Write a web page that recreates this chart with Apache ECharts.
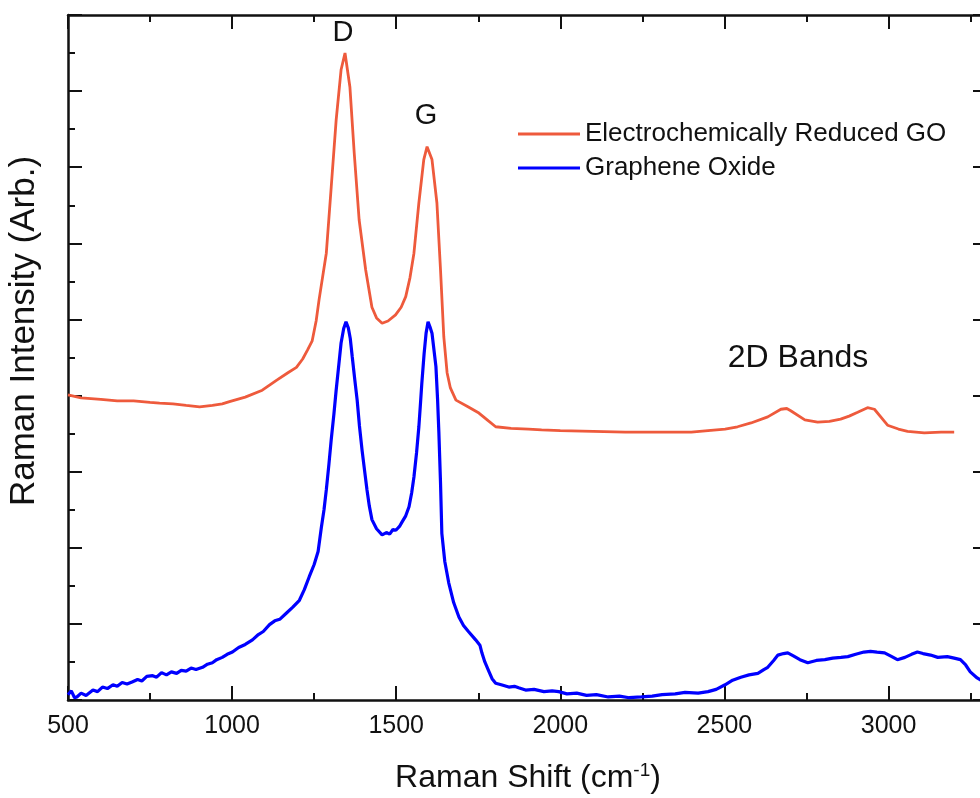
<!DOCTYPE html>
<html>
<head>
<meta charset="utf-8">
<script src="https://cdn.jsdelivr.net/npm/echarts@6/dist/echarts.min.js"></script>
<style>html,body{margin:0;padding:0;background:#fff;overflow:hidden;width:980px;height:798px}#c{width:990px;height:798px}</style>
</head>
<body>
<div id="c"></div>
<script>
const xTicks = [500, 1000, 1500, 2000, 2500, 3000];
const seriesNames = ['Electrochemically Reduced GO', 'Graphene Oxide'];
const ergo = [[500,4.01],[540,3.97],[600,3.95],[650,3.93],[700,3.93],[750,3.91],[779,3.90],[820,3.89],[860,3.87],[901,3.85],[940,3.87],[970,3.89],[992,3.92],[1040,3.98],[1092,4.07],[1135,4.20],[1170,4.30],[1196,4.37],[1215,4.48],[1230,4.60],[1244,4.72],[1256,4.98],[1265,5.26],[1287,5.87],[1302,6.74],[1317,7.62],[1332,8.28],[1344,8.50],[1359,8.05],[1372,7.19],[1387,6.31],[1407,5.65],[1426,5.16],[1440,5.02],[1457,4.95],[1475,4.98],[1498,5.06],[1515,5.16],[1529,5.30],[1542,5.55],[1554,5.87],[1569,6.53],[1584,7.10],[1594,7.27],[1609,7.10],[1624,6.53],[1635,5.65],[1645,4.77],[1655,4.30],[1665,4.10],[1682,3.94],[1720,3.85],[1752,3.77],[1780,3.67],[1803,3.59],[1850,3.57],[1903,3.56],[1943,3.55],[2000,3.54],[2100,3.53],[2198,3.52],[2300,3.52],[2399,3.52],[2450,3.54],[2502,3.56],[2540,3.59],[2581,3.64],[2632,3.72],[2672,3.82],[2690,3.83],[2702,3.80],[2745,3.68],[2784,3.65],[2820,3.66],[2854,3.69],[2880,3.73],[2906,3.78],[2936,3.84],[2957,3.82],[2980,3.70],[2997,3.61],[3030,3.56],[3058,3.53],[3109,3.51],[3160,3.52],[3200,3.52]];
const go = [[500,0.07],[510,0.12],[520,0.03],[527,0.04],[540,0.09],[555,0.06],[576,0.13],[590,0.11],[605,0.17],[620,0.15],[637,0.20],[650,0.18],[665,0.23],[680,0.21],[697,0.24],[712,0.27],[725,0.25],[740,0.31],[758,0.32],[770,0.30],[785,0.36],[800,0.33],[815,0.37],[831,0.35],[845,0.39],[860,0.38],[875,0.42],[890,0.40],[910,0.43],[925,0.47],[940,0.49],[953,0.53],[970,0.56],[985,0.60],[1001,0.63],[1020,0.69],[1040,0.73],[1062,0.79],[1080,0.86],[1095,0.90],[1114,0.99],[1130,1.04],[1145,1.06],[1165,1.14],[1185,1.22],[1205,1.31],[1220,1.45],[1235,1.62],[1250,1.78],[1262,1.95],[1272,2.27],[1280,2.50],[1287,2.76],[1295,3.10],[1302,3.42],[1310,3.75],[1317,4.07],[1325,4.40],[1332,4.69],[1340,4.88],[1347,4.97],[1354,4.89],[1360,4.75],[1366,4.51],[1374,4.20],[1381,3.94],[1388,3.60],[1396,3.28],[1404,3.00],[1411,2.76],[1418,2.55],[1426,2.37],[1440,2.25],[1457,2.17],[1470,2.20],[1480,2.18],[1490,2.24],[1499,2.23],[1510,2.28],[1518,2.34],[1529,2.42],[1539,2.54],[1547,2.72],[1554,2.93],[1562,3.25],[1569,3.59],[1574,3.90],[1578,4.16],[1585,4.55],[1591,4.82],[1597,4.97],[1603,4.90],[1609,4.82],[1615,4.60],[1621,4.38],[1626,3.95],[1630,3.51],[1635,2.85],[1639,2.19],[1648,1.82],[1660,1.54],[1675,1.28],[1691,1.09],[1705,0.98],[1720,0.90],[1742,0.79],[1755,0.72],[1761,0.62],[1770,0.50],[1782,0.38],[1792,0.28],[1803,0.22],[1820,0.20],[1843,0.17],[1860,0.18],[1873,0.16],[1894,0.13],[1920,0.14],[1950,0.11],[1975,0.12],[1995,0.11],[2020,0.08],[2050,0.09],[2080,0.06],[2110,0.07],[2146,0.04],[2180,0.05],[2210,0.03],[2247,0.04],[2280,0.05],[2310,0.07],[2350,0.08],[2380,0.10],[2420,0.09],[2450,0.11],[2475,0.14],[2502,0.20],[2525,0.26],[2550,0.30],[2575,0.33],[2602,0.35],[2620,0.40],[2632,0.43],[2650,0.52],[2663,0.59],[2680,0.61],[2693,0.62],[2710,0.58],[2730,0.53],[2754,0.49],[2780,0.52],[2806,0.53],[2830,0.55],[2855,0.56],[2876,0.57],[2900,0.60],[2925,0.63],[2945,0.64],[2965,0.63],[2988,0.62],[3010,0.57],[3027,0.53],[3050,0.56],[3070,0.60],[3088,0.63],[3105,0.61],[3128,0.59],[3150,0.56],[3179,0.57],[3200,0.55],[3219,0.53],[3235,0.46],[3249,0.37],[3270,0.29],[3285,0.25],[3300,0.22]];
const annotations = ['D', 'G', '2D Bands'];

const FONT = '"Liberation Sans", Arial, sans-serif';
const chart = echarts.init(document.getElementById('c'), null, {renderer: 'canvas'});
const axisLine = {show: true, onZero: false, lineStyle: {color: '#111', width: 2.5}};
const tickMajor = {show: true, inside: true, length: 14, lineStyle: {color: '#111', width: 2}};
const tickMinor = {show: true, splitNumber: 2, length: 7, lineStyle: {color: '#111', width: 2}};
const xBase = {type: 'value', min: xTicks[0], max: 3300, interval: 500, axisLine, axisTick: tickMajor, minorTick: tickMinor, splitLine: {show: false}};
const yBase = {type: 'value', min: 0, max: 9, interval: 1, axisLine, axisTick: tickMajor, minorTick: tickMinor, splitLine: {show: false}, axisLabel: {show: false}};

chart.setOption({
  animation: false,
  backgroundColor: '#fff',
  grid: {left: 68, top: 15, right: 1, bottom: 98, containLabel: false},
  xAxis: [
    Object.assign({}, xBase, {position: 'bottom', axisLabel: {show: true, color: '#111', fontSize: 25, fontFamily: FONT, margin: 14,
      formatter: v => xTicks.indexOf(v) >= 0 ? String(v) : ''}}),
    Object.assign({}, xBase, {position: 'top', axisLabel: {show: false}})
  ],
  yAxis: [
    Object.assign({}, yBase, {position: 'left'}),
    Object.assign({}, yBase, {position: 'right'})
  ],
  legend: {
    orient: 'vertical', left: 513, top: 115, itemWidth: 62, itemHeight: 3, itemGap: 6, icon: 'rect',
    textStyle: {fontSize: 26, fontFamily: FONT, color: '#111', lineHeight: 28},
    data: seriesNames
  },
  series: [
    {name: seriesNames[0], type: 'line', data: ergo, showSymbol: false, symbol: 'none', smooth: false,
      lineStyle: {color: '#EE5A3C', width: 2.8}, itemStyle: {color: '#EE5A3C'}},
    {name: seriesNames[1], type: 'line', data: go, showSymbol: false, symbol: 'none', smooth: false,
      lineStyle: {color: '#0000FF', width: 3.2}, itemStyle: {color: '#0000FF'}}
  ],
  graphic: [
    {type: 'text', x: 343, y: 33, style: {text: annotations[0], font: '29px ' + FONT, fill: '#111', align: 'center', verticalAlign: 'middle'}},
    {type: 'text', x: 426, y: 116, style: {text: annotations[1], font: '29px ' + FONT, fill: '#111', align: 'center', verticalAlign: 'middle'}},
    {type: 'text', x: 798, y: 358, style: {text: annotations[2], font: '32px ' + FONT, fill: '#111', align: 'center', verticalAlign: 'middle'}},
    {type: 'text', x: 528, y: 778, style: {text: 'Raman Shift (cm{s|-1})', font: '32px ' + FONT, fill: '#111', align: 'center', verticalAlign: 'middle',
      rich: {s: {fontSize: 19, fontFamily: FONT, verticalAlign: 'top', padding: [0, 0, 14, 0]}}}},
    {type: 'text', x: 24, y: 331, rotation: Math.PI / 2, style: {text: 'Raman Intensity (Arb.)', font: '35px ' + FONT, fill: '#111', align: 'center', verticalAlign: 'middle'}}
  ]
});
</script>
</body>
</html>
